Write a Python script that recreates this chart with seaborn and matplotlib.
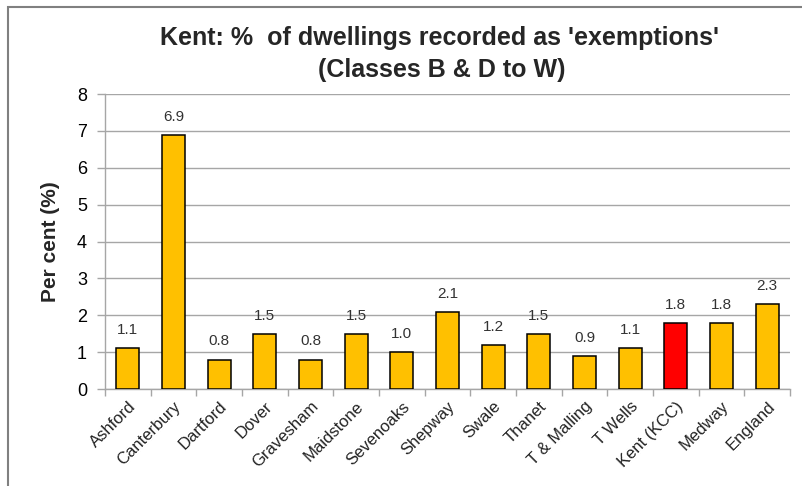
import matplotlib
matplotlib.use("Agg")
import matplotlib.pyplot as plt
from matplotlib.patches import Rectangle
import numpy as np
import pandas as pd
import seaborn as sns

districts = ["Ashford", "Canterbury", "Dartford", "Dover", "Gravesham", "Maidstone",
             "Sevenoaks", "Shepway", "Swale", "Thanet", "T & Malling", "T Wells",
             "Kent (KCC)", "Medway", "England"]
exemption_pct = [1.1, 6.9, 0.8, 1.5, 0.8, 1.5, 1.0, 2.1, 1.2, 1.5, 0.9, 1.1, 1.8, 1.8, 2.3]
y_ticks = [0, 1, 2, 3, 4, 5, 6, 7, 8]
title_lines = ["Kent: %  of dwellings recorded as 'exemptions'", "(Classes B & D to W)"]

df = pd.DataFrame({"district": districts, "pct": exemption_pct})
palette = {d: ("#FF0000" if d == "Kent (KCC)" else "#FFC000") for d in districts}

sns.set_theme(style="white")
plt.rcParams["font.family"] = ["Liberation Sans", "DejaVu Sans"]

fig = plt.figure(figsize=(8.03, 4.86), dpi=100)
ax = fig.add_axes([105 / 803, 1 - 389 / 486, 685 / 803, 295 / 486])

sns.barplot(data=df, x="district", y="pct", hue="district", palette=palette,
            dodge=False, legend=False, width=0.5, edgecolor="black",
            linewidth=1.1, saturation=1, ax=ax, zorder=3)

for i, v in enumerate(exemption_pct):
    ax.text(i, v + 0.3, f"{v:.1f}", ha="center", va="bottom",
            fontsize=11, color="#333333")

ax.set_ylim(0, 8)
ax.set_xlim(-0.5, len(districts) - 0.5)
ax.set_yticks(y_ticks)
ax.yaxis.grid(True, color="#a6a6a6", linewidth=1, zorder=0)
ax.tick_params(axis="y", which="major", length=6, width=1, color="#a6a6a6",
               labelsize=13, labelcolor="black", pad=7, left=True)

# category labels at the bar centres, tick marks on the category boundaries
ax.set_xticks(range(len(districts)))
ax.set_xticklabels(districts, rotation=45, ha="right", rotation_mode="anchor",
                   fontsize=12, color="#222222")
ax.tick_params(axis="x", which="major", length=0, pad=7)
ax.set_xticks(np.arange(-0.5, len(districts), 1.0), minor=True)
ax.tick_params(axis="x", which="minor", length=5, width=1, color="#a6a6a6",
               bottom=True)

for side in ["top", "right"]:
    ax.spines[side].set_visible(False)
for side in ["left", "bottom"]:
    ax.spines[side].set_color("#a6a6a6")
    ax.spines[side].set_linewidth(1)

ax.set_xlabel("")
ax.set_ylabel("Per cent (%)", fontsize=15, fontweight="bold", labelpad=12)

fig.text(440 / 803, 1 - 45 / 486, title_lines[0], ha="center", va="baseline",
         fontsize=18, fontweight="bold")
fig.text(442 / 803, 1 - 77 / 486, title_lines[1], ha="center", va="baseline",
         fontsize=18, fontweight="bold")

fig.patches.append(Rectangle((8 / 803, -0.1), 1.2, 1 - 7 / 486 + 0.1,
                             transform=fig.transFigure, fill=False,
                             edgecolor="#808080", linewidth=1.5))

fig.savefig("out.png", dpi=100)
